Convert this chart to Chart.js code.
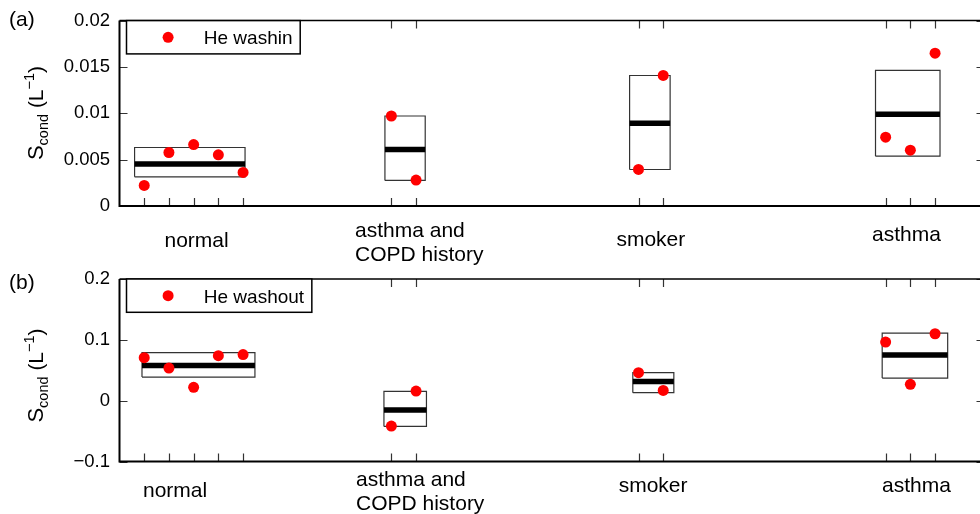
<!DOCTYPE html>
<html>
<head>
<meta charset="utf-8">
<script src="https://cdn.jsdelivr.net/npm/chart.js@4.4.1/dist/chart.umd.min.js"></script>
<style>
  html, body { margin: 0; padding: 0; background: #fff; overflow: hidden; width: 980px; height: 514px; }
  canvas { position: absolute; left: 0; }
  #panelA { top: 0; }
  #panelB { top: 257px; }
</style>
</head>
<body>
<canvas id="panelA" width="990" height="275"></canvas>
<canvas id="panelB" width="990" height="257"></canvas>
<script>
// Subject positions along the x axis, grouped by diagnosis
const normalX = [1, 2, 3, 4, 5];
const copdX = [11, 12];
const smokerX = [21, 22];
const asthmaX = [31, 32, 33];
const groupNames = ['normal', 'asthma and\nCOPD history', 'smoker', 'asthma'];
const xTicks = [1, 2, 3, 4, 5, 11, 12, 21, 22, 31, 32, 33];

// (a) He washin: S_cond per subject, and the group box (low, high, centre line)
const washinNormal = [0.00222, 0.00577, 0.00663, 0.00552, 0.00362];
const washinCopd = [0.00971, 0.00280];
const washinSmoker = [0.00394, 0.01408];
const washinAsthma = [0.00742, 0.00602, 0.01648];
const washinBoxLow = [0.00315, 0.00276, 0.00394, 0.00537];
const washinBoxHigh = [0.00631, 0.00971, 0.01408, 0.01462];
const washinCentre = [0.00452, 0.00609, 0.00892, 0.00989];
const washinBoxFrom = [0.61, 10.74, 20.64, 30.59];
const washinBoxTo = [5.08, 12.37, 22.28, 33.20];
const washinTicks = [0, 0.005, 0.01, 0.015, 0.02];
const washinTickLabels = ['0', '0.005', '0.01', '0.015', '0.02'];

// (b) He washout
const washoutNormal = [0.0707, 0.0536, 0.0219, 0.0740, 0.0757];
const washoutCopd = [-0.0418, 0.0158];
const washoutSmoker = [0.0460, 0.0169];
const washoutAsthma = [0.0964, 0.0268, 0.1100];
const washoutBoxLow = [0.0388, -0.0423, 0.0132, 0.0372];
const washoutBoxHigh = [0.0789, 0.0153, 0.0460, 0.1110];
const washoutCentre = [0.0580, -0.0155, 0.0317, 0.0750];
const washoutBoxFrom = [0.91, 10.70, 20.77, 30.86];
const washoutBoxTo = [5.48, 12.42, 22.43, 33.51];
const washoutTicks = [-0.1, 0, 0.1, 0.2];
const washoutTickLabels = ['\u22120.1', '0', '0.1', '0.2'];

const FONT = "'Liberation Sans', Arial, Helvetica, sans-serif";
Chart.defaults.font.family = FONT;
Chart.defaults.color = '#000';

function toPoints(xs, ys) {
  return xs.map((x, i) => ({ x: x, y: ys[i] }));
}

function boxOutline(from, to, low, high) {
  const pts = [];
  for (let i = 0; i < from.length; i++) {
    pts.push({ x: from[i], y: low[i] }, { x: to[i], y: low[i] },
             { x: to[i], y: high[i] }, { x: from[i], y: high[i] },
             { x: from[i], y: low[i] }, { x: to[i], y: null });
  }
  return pts;
}

function centreLines(from, to, centre) {
  const pts = [];
  for (let i = 0; i < from.length; i++) {
    pts.push({ x: from[i], y: centre[i] }, { x: to[i], y: centre[i] }, { x: to[i], y: null });
  }
  return pts;
}

// Frame with inward ticks on all four sides
const framePlugin = {
  id: 'frame',
  afterDatasetsDraw(chart) {
    const { ctx, chartArea: a, scales } = chart;
    ctx.save();
    ctx.strokeStyle = '#333';
    ctx.lineWidth = 1.2;
    const len = 8;
    scales.x.ticks.forEach(t => {
      const px = Math.round(scales.x.getPixelForValue(t.value)) + 0.5;
      ctx.beginPath();
      ctx.moveTo(px, a.bottom); ctx.lineTo(px, a.bottom - len);
      ctx.moveTo(px, a.top); ctx.lineTo(px, a.top + len);
      ctx.stroke();
    });
    scales.y.ticks.forEach(t => {
      const py = Math.round(scales.y.getPixelForValue(t.value)) + 0.5;
      ctx.beginPath();
      ctx.moveTo(a.left, py); ctx.lineTo(a.left + len, py);
      ctx.moveTo(a.right, py); ctx.lineTo(a.right - len, py);
      ctx.stroke();
    });
    ctx.strokeStyle = '#000';
    ctx.lineWidth = 1.5;
    ctx.beginPath();
    ctx.moveTo(a.left, a.top); ctx.lineTo(a.right, a.top); ctx.lineTo(a.right, a.bottom);
    ctx.stroke();
    ctx.lineWidth = 2;
    ctx.beginPath();
    ctx.moveTo(a.left, a.top); ctx.lineTo(a.left, a.bottom); ctx.lineTo(a.right, a.bottom);
    ctx.stroke();
    ctx.restore();
  }
};

// Legend box, category labels, axis title and panel letter
const textPlugin = {
  id: 'texts',
  afterDraw(chart) {
    const o = chart.options.plugins.texts;
    const { ctx, chartArea: a, scales } = chart;
    ctx.save();

    // legend
    ctx.font = '19px ' + FONT;
    const tw = ctx.measureText(o.legend).width;
    const lx = a.left + 7, ly = a.top, lw = 77 + tw + 8, lh = 33.3;
    ctx.fillStyle = '#fff';
    ctx.fillRect(lx, ly, lw, lh);
    ctx.strokeStyle = '#000';
    ctx.lineWidth = 1.5;
    ctx.strokeRect(lx, ly, lw, lh);
    ctx.fillStyle = '#ff0000';
    ctx.beginPath();
    ctx.arc(lx + 41.6, ly + 16.7, 5.5, 0, Math.PI * 2);
    ctx.fill();
    ctx.fillStyle = '#000';
    ctx.textBaseline = 'alphabetic';
    ctx.textAlign = 'left';
    ctx.fillText(o.legend, lx + 77.3, ly + 23.5);

    // category labels under the axis
    ctx.font = '21px ' + FONT;
    o.labels.forEach((lab, i) => {
      const lines = groupNames[i].split('\n');
      const px = scales.x.getPixelForValue(lab.x);
      ctx.textAlign = lab.align;
      lines.forEach((line, j) => {
        ctx.fillText(line, px, a.bottom + lab.dy + j * 24);
      });
    });

    // panel letter
    ctx.textAlign = 'left';
    ctx.font = '21px ' + FONT;
    ctx.fillText(o.letter, 9, o.letterY);

    // rotated y axis title: S_cond (L^-1)
    ctx.translate(42.5, o.titleY);
    ctx.rotate(-Math.PI / 2);
    const parts = [
      { t: 'S', f: 22, dy: 0 },
      { t: 'cond', f: 14.5, dy: 5 },
      { t: ' (L', f: 21, dy: 0 },
      { t: '\u22121', f: 14.5, dy: -9 },
      { t: ')', f: 21, dy: 0 }
    ];
    let total = 0;
    parts.forEach(p => { ctx.font = p.f + 'px ' + FONT; p.w = ctx.measureText(p.t).width; total += p.w; });
    let x = -total / 2;
    parts.forEach(p => {
      ctx.font = p.f + 'px ' + FONT;
      ctx.fillText(p.t, x, p.dy);
      x += p.w;
    });
    ctx.restore();
  }
};

function makePanel(id, cfg) {
  const points = []
    .concat(toPoints(normalX, cfg.values[0]))
    .concat(toPoints(copdX, cfg.values[1]))
    .concat(toPoints(smokerX, cfg.values[2]))
    .concat(toPoints(asthmaX, cfg.values[3]));

  return new Chart(document.getElementById(id), {
    type: 'scatter',
    data: {
      datasets: [
        {
          label: cfg.legend,
          data: points,
          pointRadius: 5.5,
          pointHoverRadius: 5.5,
          pointBackgroundColor: '#ff0000',
          pointBorderWidth: 0,
          showLine: false
        },
        {
          label: 'centre',
          data: centreLines(cfg.from, cfg.to, cfg.centre),
          showLine: true,
          spanGaps: false,
          borderColor: '#000',
          borderWidth: 5.5,
          borderCapStyle: 'butt',
          pointRadius: 0
        },
        {
          label: 'box',
          data: boxOutline(cfg.from, cfg.to, cfg.low, cfg.high),
          showLine: true,
          spanGaps: false,
          borderColor: '#333',
          borderWidth: 1.2,
          borderJoinStyle: 'miter',
          pointRadius: 0
        }
      ]
    },
    options: {
      responsive: false,
      devicePixelRatio: 1,
      animation: false,
      events: [],
      layout: { padding: { top: cfg.top, right: 5, left: 0, bottom: 0 } },
      plugins: {
        legend: { display: false },
        tooltip: { enabled: false },
        texts: {
          legend: cfg.legend,
          labels: cfg.labels,
          letter: cfg.letter,
          letterY: cfg.letterY,
          titleY: cfg.titleY
        }
      },
      scales: {
        x: {
          type: 'linear',
          min: 0,
          max: 35,
          grid: { display: false },
          border: { display: false },
          ticks: { display: false },
          afterBuildTicks: s => { s.ticks = xTicks.map(v => ({ value: v })); },
          afterFit: s => { s.height = cfg.bottomSpace; }
        },
        y: {
          type: 'linear',
          min: cfg.ticks[0],
          max: cfg.ticks[cfg.ticks.length - 1],
          grid: { display: false, drawTicks: false },
          border: { display: false },
          ticks: {
            padding: 9.5,
            font: { size: 18.5 },
            color: '#000',
            callback: (v, i) => cfg.tickLabels[i]
          },
          afterBuildTicks: s => { s.ticks = cfg.ticks.map(v => ({ value: v })); },
          afterFit: s => { s.width = 119.5; }
        }
      }
    },
    plugins: [framePlugin, textPlugin]
  });
}

makePanel('panelA', {
  values: [washinNormal, washinCopd, washinSmoker, washinAsthma],
  low: washinBoxLow, high: washinBoxHigh, centre: washinCentre,
  from: washinBoxFrom, to: washinBoxTo,
  ticks: washinTicks, tickLabels: washinTickLabels,
  legend: 'He washin',
  letter: '(a)', letterY: 25.5, titleY: 113,
  top: 20, bottomSpace: 69,
  labels: [
    { x: 3.12, align: 'center', dy: 40.5 },
    { x: 9.53, align: 'left', dy: 31 },
    { x: 21.5, align: 'center', dy: 39.5 },
    { x: 31.84, align: 'center', dy: 35 }
  ]
});

makePanel('panelB', {
  values: [washoutNormal, washoutCopd, washoutSmoker, washoutAsthma],
  low: washoutBoxLow, high: washoutBoxHigh, centre: washoutCentre,
  from: washoutBoxFrom, to: washoutBoxTo,
  ticks: washoutTicks, tickLabels: washoutTickLabels,
  legend: 'He washout',
  letter: '(b)', letterY: 32, titleY: 118.5,
  top: 22, bottomSpace: 52.5,
  labels: [
    { x: 2.25, align: 'center', dy: 35.5 },
    { x: 9.57, align: 'left', dy: 24.5 },
    { x: 21.59, align: 'center', dy: 30.5 },
    { x: 32.25, align: 'center', dy: 30.5 }
  ]
});
</script>
</body>
</html>
